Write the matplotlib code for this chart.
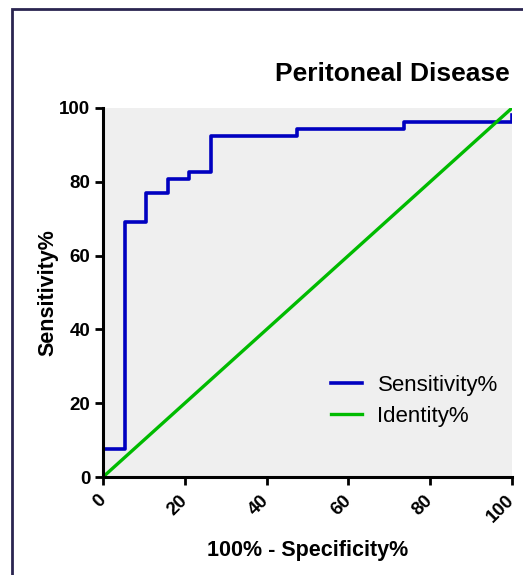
import matplotlib
matplotlib.use("Agg")
from matplotlib import pyplot as plt
from matplotlib.patches import Rectangle

plt.rcParams['font.family'] = ['Liberation Sans', 'DejaVu Sans']

# ROC points (100% - specificity, sensitivity), step curve
spec_x = [0, 0, 5.26, 10.53, 15.79, 21.05, 26.32, 47.37, 73.68, 100, 100]
sens_y = [0, 7.69, 69.23, 76.92, 80.77, 82.69, 92.31, 94.23, 96.15, 96.15, 98.08]
ident_x = [0, 100]
ident_y = [0, 100]
ticks = [0, 20, 40, 60, 80, 100]

fig = plt.figure(figsize=(5.23, 5.75), dpi=100)
ax = fig.add_axes([103 / 523, 1 - 477 / 575, 409 / 523, 369 / 575])
ax.set_facecolor('#efefef')

ax.step(spec_x, sens_y, where='post', color='#0000c0', lw=2.6, label="Sensitivity%")
ax.plot(ident_x, ident_y, color='#00bb00', lw=2.4, label="Identity%")

ax.set_xlim(0, 100)
ax.set_ylim(0, 100)
ax.set_xticks(ticks)
ax.set_yticks(ticks)
ax.set_xticklabels([str(t) for t in ticks], rotation=45, ha='right', va='center',
                   rotation_mode='anchor', fontweight='bold', fontsize=13.5)
ax.set_yticklabels([str(t) for t in ticks], fontweight='bold', fontsize=13.5)
ax.tick_params(direction='out', length=6, width=2, color='black', pad=3)
ax.tick_params(axis='x', pad=9)
for s in ['top', 'right']:
    ax.spines[s].set_visible(False)
for s in ['left', 'bottom']:
    ax.spines[s].set_linewidth(2.2)

ax.set_xlabel("100% - Specificity%", fontweight='bold', fontsize=15.5, labelpad=10)
ax.set_ylabel("Sensitivity%", fontweight='bold', fontsize=15.5, labelpad=1)
fig.text(510 / 523, 1 - 74 / 575, "Peritoneal Disease", ha='right', va='center',
         fontweight='bold', fontsize=19)

ax.legend(loc='center left', bbox_to_anchor=(0.557, 0.206), frameon=False, fontsize=16,
          handlelength=1.4, handletextpad=0.7, labelspacing=0.45,
          borderpad=0, borderaxespad=0)

fig.patches.append(Rectangle((12 / 523, -0.2), 1.5, 1 - 9 / 575 + 0.2, transform=fig.transFigure,
                             fill=False, edgecolor='#2a2550', lw=2, figure=fig))

plt.savefig("out.png", dpi=100)
